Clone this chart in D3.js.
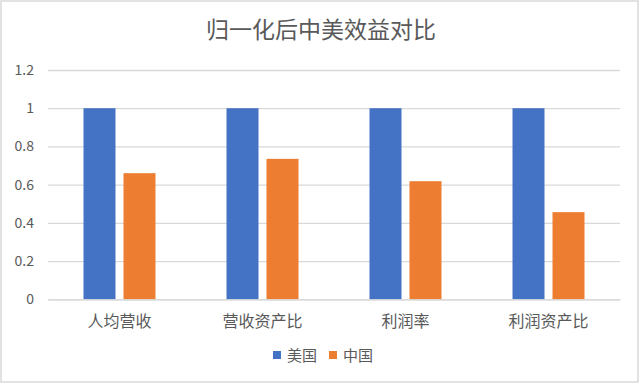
<!DOCTYPE html>
<html><head><meta charset="utf-8">
<script src="https://cdn.jsdelivr.net/npm/d3@7"></script>
<style>body{margin:0;background:#fff;}svg{display:block;}</style>
</head><body>
<script>
const title = "归一化后中美效益对比";
const categories = ["人均营收", "营收资产比", "利润率", "利润资产比"];
const seriesNames = ["美国", "中国"];
const usValues = [1, 1, 1, 1];
const cnValues = [0.66, 0.735, 0.618, 0.456];
const yTicks = [0, 0.2, 0.4, 0.6, 0.8, 1, 1.2];
const colors = ["#4472C4", "#ED7D31"];

const W = 640, H = 384;
const font = "'Noto Sans CJK SC','Noto Sans',sans-serif";
const svg = d3.select("body").append("svg").attr("width", W).attr("height", H);
svg.append("rect").attr("x", 1).attr("y", 1).attr("width", W - 3).attr("height", H - 3)
  .attr("fill", "#fff").attr("stroke", "#d9d9d9").attr("stroke-width", 1.5);

const m = {l: 48, r: 20, t: 70, b: 85};
const x = d3.scaleBand().domain(categories).range([m.l, W - m.r]).paddingInner(0).paddingOuter(0);
const y = d3.scaleLinear().domain([0, 1.2]).range([299.3, 70]);

svg.append("text").attr("x", 321).attr("y", 38).attr("text-anchor", "middle")
  .attr("font-family", font).attr("font-size", 23).attr("fill", "#595959").text(title);

const yAxis = d3.axisLeft(y).tickValues(yTicks).tickSize(-(W - m.r - m.l)).tickFormat(d => String(d));
const gy = svg.append("g").attr("transform", `translate(${m.l},0)`).call(yAxis);
gy.select(".domain").remove();
gy.selectAll(".tick line").attr("stroke", "#d9d9d9").attr("stroke-width", 1.3);
gy.selectAll(".tick text").attr("x", -14).attr("font-family", font).attr("font-size", 14).attr("fill", "#595959");

const x1 = d3.scaleBand().domain(seriesNames).range([0, 72]).paddingInner(0.2);
const data = categories.map((c, i) => ({c, vals: [usValues[i], cnValues[i]]}));
const groups = svg.append("g").selectAll("g").data(data).join("g")
  .attr("transform", d => `translate(${x(d.c) + x.bandwidth() / 2 - 36},0)`);
groups.selectAll("rect").data(d => d.vals.map((v, j) => ({v, s: seriesNames[j], j})))
  .join("rect")
  .attr("x", d => x1(d.s)).attr("width", x1.bandwidth())
  .attr("y", d => y(d.v)).attr("height", d => y(0) - y(d.v))
  .attr("fill", d => colors[d.j]);

const xAxis = d3.axisBottom(x).tickSize(0).tickPadding(0);
const gx = svg.append("g").attr("transform", `translate(0,${y(0)})`).call(xAxis);
gx.select(".domain").attr("stroke", "#d9d9d9").attr("stroke-width", 1.3);
gx.selectAll(".tick text").attr("dy", 0).attr("y", 28).attr("font-family", font).attr("font-size", 16).attr("fill", "#595959");

const legX = [273, 329];
const leg = svg.append("g").selectAll("g").data(seriesNames).join("g")
  .attr("transform", (d, i) => `translate(${legX[i]},351)`);
leg.append("rect").attr("width", 8).attr("height", 8).attr("fill", (d, i) => colors[i]);
leg.append("text").attr("x", 14).attr("y", 9.5).attr("font-family", font).attr("font-size", 15)
  .attr("fill", "#595959").text(d => d);
</script>
</body></html>
